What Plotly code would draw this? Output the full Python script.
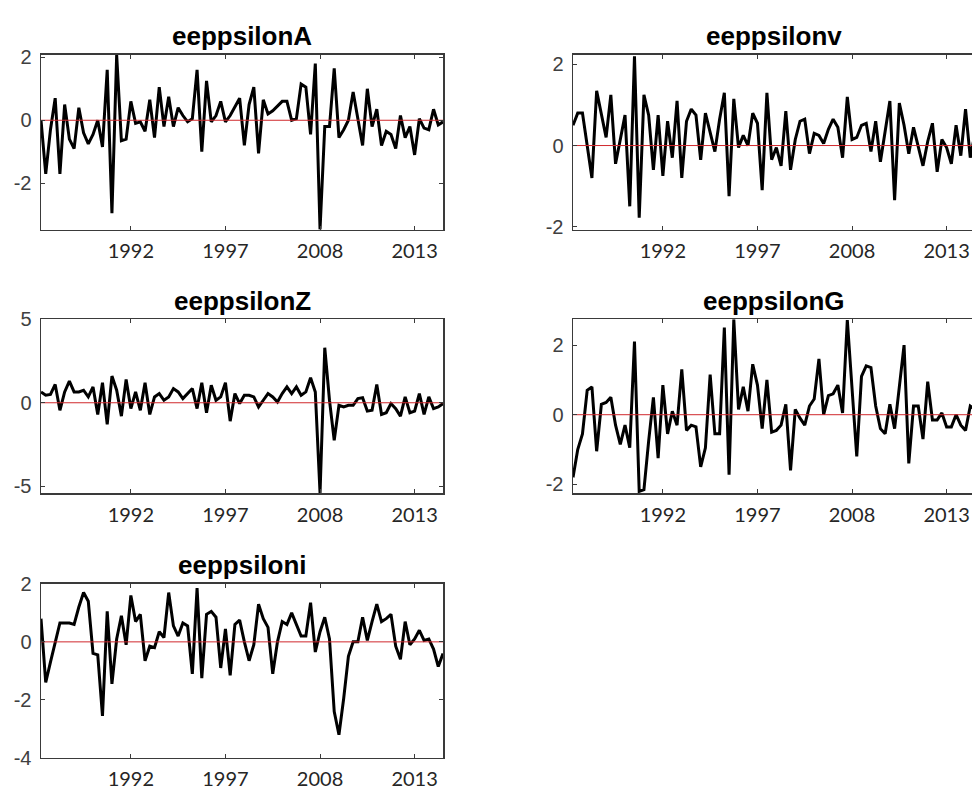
import plotly.graph_objects as go

# ---------------- data ----------------
obs = list(range(1, 87))

eeppsilonA = [0.0, -1.7, -0.3, 0.7, -1.7, 0.5, -0.6, -0.9, 0.4, -0.4,
              -0.75, -0.45, 0.0, -0.85, 1.6, -2.95, 2.07, -0.65, -0.6, 0.6,
              -0.1, -0.05, -0.35, 0.65, -0.55, 1.05, -0.2, 0.75, -0.2, 0.4,
              0.15, -0.05, 0.05, 1.6, -1.0, 1.25, -0.05, 0.15, 0.6, -0.05,
              0.15, 0.45, 0.7, -0.8, 0.5, 1.05, -1.05, 0.65, 0.2, 0.3,
              0.45, 0.6, 0.6, 0.0, 0.05, 1.15, 1.05, -0.45, 1.8, -3.47,
              -0.2, -0.2, 1.65, -0.55, -0.3, 0.0, 0.9, 0.1, -0.8, 1.0,
              -0.2, 0.35, -0.8, -0.35, -0.45, -0.9, 0.15, -0.55, -0.2, -1.1,
              0.05, -0.25, -0.3, 0.35, -0.15, -0.05]

eeppsilonv = [0.5, 0.8, 0.8, 0.0, -0.8, 1.35, 0.8, 0.2, 1.25, -0.45,
              0.15, 0.75, -1.5, 2.2, -1.78, 1.25, 0.75, -0.6, 0.75, -0.75,
              0.6, -0.3, 1.1, -0.8, 0.6, 0.9, 0.75, -0.35, 0.8, 0.3,
              -0.15, 0.65, 1.3, -1.25, 1.15, -0.05, 0.25, 0.0, 0.8, 0.55,
              -1.1, 1.3, -0.35, -0.05, -0.5, 0.85, -0.6, 0.15, 0.6, 0.65,
              -0.2, 0.3, 0.25, 0.05, 0.4, 0.65, 0.45, -0.3, 1.2, 0.15,
              0.2, 0.5, 0.55, -0.15, 0.6, -0.4, 0.4, 1.1, -1.35, 1.05,
              0.5, -0.2, 0.45, -0.05, -0.5, 0.1, 0.55, -0.65, 0.15, -0.05,
              -0.45, 0.5, -0.25, 0.9, -0.3, 0.3]

eeppsilonZ = [0.65, 0.45, 0.5, 1.1, -0.45, 0.65, 1.3, 0.65, 0.65, 0.75,
              0.35, 0.95, -0.7, 1.2, -1.3, 1.6, 0.75, -0.8, 1.4, -0.35,
              0.65, -0.45, 1.2, -0.7, 0.35, 0.55, 0.15, 0.35, 0.85, 0.65,
              0.25, 0.55, 0.85, -0.35, 1.2, -0.6, 1.05, 0.15, 0.35, 1.2,
              -1.1, 0.55, -0.05, 0.45, 0.45, 0.35, -0.25, 0.15, 0.55, 0.35,
              0.05, 0.55, 0.95, 0.55, 0.95, 0.45, 0.65, 1.5, 0.65, -5.4,
              3.3, 0.15, -2.25, -0.15, -0.25, -0.15, -0.15, 0.25, 0.3, -0.5,
              -0.45, 1.1, -0.7, -0.6, -0.05, -0.35, -0.8, 0.35, -0.6, -0.5,
              0.55, -0.7, 0.35, -0.35, -0.25, -0.05]

eeppsilonG = [-1.8, -1.0, -0.55, 0.7, 0.8, -1.05, 0.3, 0.35, 0.5, -0.3,
              -0.85, -0.3, -0.95, 2.1, -2.2, -2.15, -0.75, 0.5, -1.25, 0.85,
              -0.55, 0.1, -0.3, 1.3, -0.45, -0.3, -0.35, -1.5, -0.95, 1.15,
              -0.55, -0.55, 2.5, -1.72, 2.74, 0.15, 0.8, 0.1, 1.45, 0.85,
              -0.4, 1.0, -0.5, -0.45, -0.3, 0.3, -1.6, 0.15, -0.1, -0.3,
              0.25, 0.45, 1.6, 0.0, 0.55, 0.6, 0.85, 0.05, 2.72, 0.7,
              -1.2, 1.1, 1.4, 1.35, 0.25, -0.4, -0.55, 0.3, -0.4, 0.8,
              2.0, -1.4, 0.25, 0.25, -0.7, 0.95, -0.15, -0.15, 0.05, -0.35,
              -0.35, 0.0, -0.3, -0.45, 0.25, 0.15]

eeppsiloni = [0.8, -1.4, -0.7, 0.0, 0.65, 0.65, 0.65, 0.6, 1.2, 1.7,
              1.4, -0.4, -0.45, -2.55, 1.05, -1.45, 0.1, 0.9, -0.1, 1.6,
              0.7, 0.95, -0.65, -0.15, -0.2, 0.35, 0.15, 1.7, 0.55, 0.2,
              0.65, 0.55, -1.1, 1.85, -1.25, 0.95, 1.05, 0.85, -0.9, 0.45,
              -1.15, 0.6, 0.75, 0.0, -0.65, -0.1, 1.3, 0.8, 0.5, -1.1,
              0.0, 0.7, 0.6, 1.0, 0.6, 0.2, 0.2, 1.35, -0.35, 0.35,
              0.85, 0.1, -2.4, -3.2, -1.95, -0.5, 0.0, 0.0, 0.85, 0.05,
              0.7, 1.3, 0.7, 0.8, 0.95, -0.15, -0.6, 0.7, -0.1, 0.1,
              0.4, 0.05, 0.1, -0.25, -0.85, -0.4]

x_tickvals = [20, 40, 60, 80]
x_ticktext = ["1992", "1997", "2008", "2013"]

titles = ["eeppsilonA", "eeppsilonv", "eeppsilonZ", "eeppsilonG", "eeppsiloni"]
series = [eeppsilonA, eeppsilonv, eeppsilonZ, eeppsilonG, eeppsiloni]
y_ranges = [[-3.48, 2.08], [-2.08, 2.24], [-5.43, 5.0], [-2.26, 2.74], [-4.0, 2.0]]
y_tickvals = [[-2, 0, 2], [-2, 0, 2], [-5, 0, 5], [-2, 0, 2], [-4, -2, 0, 2]]
y_ticktext = [["-2", "0", "2"], ["-2", "0", "2"], ["-5", "0", "5"],
              ["-2", "0", "2"], ["-4", "-2", "0", "2"]]

# ---------------- layout ----------------
W, H = 972, 802
col_px = [(41, 443), (573, 972)]          # left/right pixel edges of plot areas
row_px = [(45, 225), (317, 496), (589, 768)]  # top/bottom pixel edges
positions = [(0, 0), (0, 1), (1, 0), (1, 1), (2, 0)]  # (row, col)

fig = go.Figure()
frame_col = "#3a3a3a"

for k, (name, vals) in enumerate(zip(titles, series)):
    r, c = positions[k]
    xa = "x" if k == 0 else f"x{k+1}"
    ya = "y" if k == 0 else f"y{k+1}"
    xl = "xaxis" if k == 0 else f"xaxis{k+1}"
    yl = "yaxis" if k == 0 else f"yaxis{k+1}"
    x0, x1 = col_px[c]
    top, bot = row_px[r]

    fig.add_trace(go.Scatter(x=obs, y=vals, mode="lines",
                             line=dict(color="black", width=3),
                             xaxis=xa, yaxis=ya, showlegend=False,
                             hoverinfo="skip"))
    fig.add_trace(go.Scatter(x=[obs[0], obs[-1]], y=[0, 0], mode="lines",
                             line=dict(color="#d0282d", width=1),
                             xaxis=xa, yaxis=ya, showlegend=False,
                             hoverinfo="skip"))

    if c == 1:
        xr = [1, 1 + (len(obs) - 1) * (x1 - x0) / 402.0]
    else:
        xr = [1, len(obs)]

    fig.layout[xl] = dict(domain=[x0 / W, x1 / W], anchor=ya, range=xr,
                          tickvals=x_tickvals, ticktext=x_ticktext,
                          ticks="inside", ticklen=4, tickcolor=frame_col,
                          showline=True, linecolor=frame_col, linewidth=1.5,
                          mirror="ticks", showgrid=False, zeroline=False,
                          tickfont=dict(family="Lato", size=20, color="#262626"),
                          ticklabelstandoff=3)
    fig.layout[yl] = dict(domain=[1 - bot / H, 1 - top / H], anchor=xa,
                          range=y_ranges[k],
                          tickvals=y_tickvals[k], ticktext=y_ticktext[k],
                          ticks="inside", ticklen=4, tickcolor=frame_col,
                          showline=True, linecolor=frame_col, linewidth=1.5,
                          mirror=("ticks" if c == 0 else False),
                          showgrid=False, zeroline=False,
                          tickfont=dict(family="Liberation Sans", size=20, color="#404040"),
                          ticklabelstandoff=4)

    cx = (x0 + x1) / 2 if c == 0 else (573 + 975) / 2
    fig.add_annotation(text="<b>" + name + "</b>", x=cx / W,
                       y=1 - (top - 19) / H,
                       xref="paper", yref="paper", xanchor="center", yanchor="middle",
                       showarrow=False,
                       font=dict(family="Liberation Sans", size=26, color="black"))

fig.update_layout(width=W, height=H, margin=dict(l=0, r=0, t=0, b=0),
                  plot_bgcolor="white", paper_bgcolor="white",
                  hovermode=False)

fig.write_html("out.html",
               config={"displayModeBar": False, "staticPlot": True},
               post_script="document.body.style.margin='0';"
                           "document.body.style.overflow='hidden';")
